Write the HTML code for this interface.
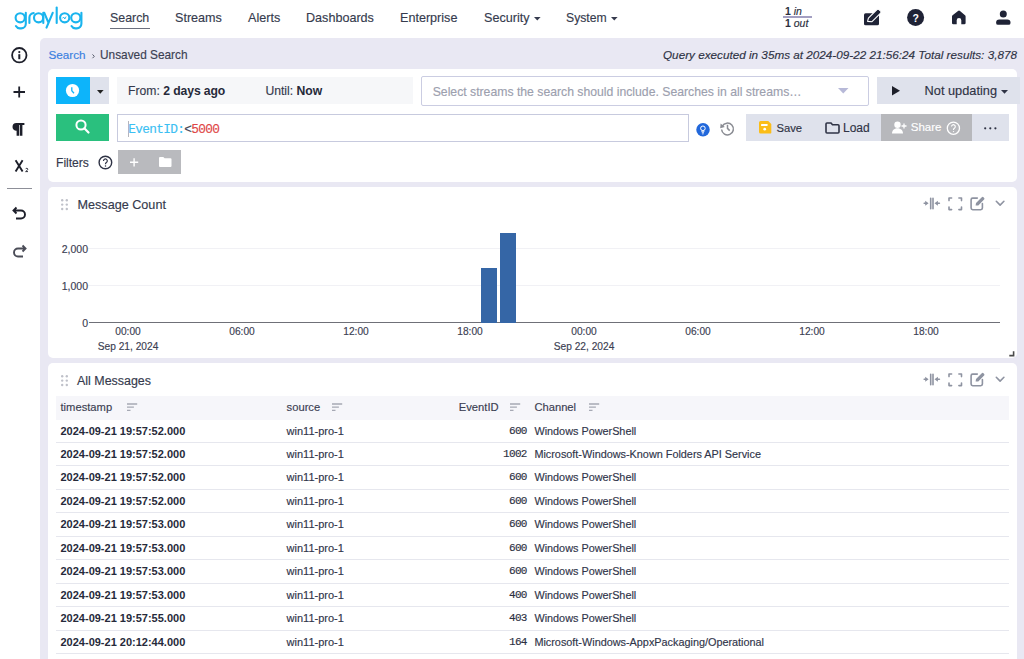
<!DOCTYPE html>
<html><head><meta charset="utf-8">
<style>
*{box-sizing:border-box;margin:0;padding:0}
html,body{width:1024px;height:659px;overflow:hidden;background:#fff;font-family:"Liberation Sans",sans-serif;color:#353a4d}
.a{position:absolute;white-space:nowrap}
#nav{position:absolute;left:0;top:0;width:1024px;height:38px;background:#fff}
#side{position:absolute;left:0;top:38px;width:40px;height:621px;background:#fff}
#main{position:absolute;left:40px;top:38px;width:984px;height:621px;background:#e9e8f3;border-top-left-radius:5px}
.card{position:absolute;background:#fff;border-radius:5px}
.ni{position:absolute;top:10.6px;font-size:12.6px;line-height:15px;color:#363b4e}
.mono{font-family:"Liberation Mono",monospace}
svg{position:absolute;overflow:visible}
.row span,.th,.ni,.ylab,.xlab,.a{-webkit-text-stroke:0.15px currentColor}
.row span.c1,b{-webkit-text-stroke:0}
.th{position:absolute;top:396px;font-size:11.2px;line-height:23px;color:#3b4052}
.row{position:absolute;left:56px;width:953px;height:23.48px;border-bottom:1px solid #e6e7ee;font-size:11px}
.row span{position:absolute;top:5px;line-height:13px;white-space:nowrap}
.c1{left:4.5px;font-weight:bold;color:#262a3a}
.c2{left:230.6px;color:#30354a}
.c3{right:482.3px;font-family:"Liberation Mono",monospace;font-size:11px;letter-spacing:-0.7px;color:#2c3042}
.c4{left:478.4px;color:#30354a;font-size:10.85px}
.ylab{position:absolute;font-size:10.5px;line-height:12px;color:#3b4052;text-align:right;width:40px;left:48px}
.xlab{position:absolute;font-size:10.2px;line-height:12px;color:#3b4052;width:80px;text-align:center}
</style></head><body>
<div id="nav">
  <svg style="left:0;top:0" width="90" height="36" viewBox="0 0 90 36"><g fill="none" stroke="#1ab4ee" stroke-width="2.1" stroke-linecap="round"><circle cx="20.2" cy="17.8" r="4.6"/><path d="M25.8 12.8V23.8a4.6 4.6 0 0 1-4.6 4.6h-1.3a4.5 4.5 0 0 1-4-2.3"/><path d="M29.4 23V17.6a4.5 4.5 0 0 1 4.3-4.5"/><circle cx="38.6" cy="17.8" r="4.6"/><path d="M43.3 12.8V23"/><path d="M44.3 12.8L48.4 22.6M52.7 12.8L46.5 27.6"/><path d="M56.7 7.6V23"/><circle cx="64.7" cy="17.8" r="4.6"/><circle cx="75.8" cy="17.8" r="4.6"/><path d="M81.4 12.8V23.8a4.6 4.6 0 0 1-4.6 4.6h-1.3a4.5 4.5 0 0 1-4-2.3"/></g><path d="M62.6 18.3l1-1.3 1.2 2 1.3-2.4" fill="none" stroke="#1ab4ee" stroke-width="0.9"/></svg>
  <div class="ni" style="left:110px;font-size:12.4px">Search</div>
  <div style="position:absolute;left:110px;top:28px;width:40px;height:1px;background:#6b6f7e"></div>
  <div class="ni" style="left:175px">Streams</div>
  <div class="ni" style="left:248px">Alerts</div>
  <div class="ni" style="left:306px">Dashboards</div>
  <div class="ni" style="left:400px">Enterprise</div>
  <div class="ni" style="left:484px">Security</div>
  <svg style="left:534.3px;top:17px" width="8" height="5"><path d="M0 0h6.6l-3.3 3.6z" fill="#363b4e"/></svg>
  <div class="ni" style="left:566px;font-size:12.2px">System</div>
  <svg style="left:610.8px;top:17px" width="8" height="5"><path d="M0 0h6.6l-3.3 3.6z" fill="#363b4e"/></svg>
  <!-- in/out -->
  <div class="a" style="left:785px;top:5px;font-size:10.5px;line-height:12px;color:#2b2f40"><b>1</b> <i>in</i></div>
  <div style="position:absolute;left:783px;top:16.2px;width:29px;height:1.4px;background:#a39fc2"></div>
  <div class="a" style="left:785px;top:17.4px;font-size:10.5px;line-height:12px;color:#2b2f40"><b>1</b> <i>out</i></div>
  <!-- right icons -->
  <svg style="left:863px;top:8px" width="19" height="19" viewBox="0 0 19 19"><rect x="1" y="5.3" width="15" height="12" rx="1.6" fill="#1f2336"/><path d="M4.6 13.4l.8-3.3 8.6-8.6a1.4 1.4 0 0 1 2 0l1.6 1.6a1.4 1.4 0 0 1 0 2l-8.6 8.6z" fill="#1f2336" stroke="#fff" stroke-width="1.1" stroke-linejoin="round"/></svg>
  <svg style="left:907px;top:9px" width="18" height="18" viewBox="0 0 18 18"><circle cx="8.6" cy="8.6" r="8.5" fill="#1f2336"/><text x="8.6" y="12.6" font-family="Liberation Sans" font-weight="bold" font-size="10.5" fill="#fff" text-anchor="middle">?</text></svg>
  <svg style="left:952px;top:9.5px" width="15" height="15" viewBox="0 0 15 15"><path d="M6 0.9a1.6 1.6 0 0 1 2 0l5 4.3a1.6 1.6 0 0 1 .6 1.2V13a1.3 1.3 0 0 1-1.3 1.3H9.3V10.2a2.3 2.3 0 0 0-4.6 0v4.1H1.3A1.3 1.3 0 0 1 0 13V6.4a1.6 1.6 0 0 1 .6-1.2z" fill="#1f2336"/></svg>
  <svg style="left:995.5px;top:10px" width="15" height="15" viewBox="0 0 15 15"><circle cx="7.3" cy="3.9" r="3.5" fill="#1f2336"/><path d="M3.3 9.4h8a3.2 3.2 0 0 1 3.2 3.2v0.3a1.9 1.9 0 0 1-1.9 1.9H2A1.9 1.9 0 0 1 .1 12.9v-.3a3.2 3.2 0 0 1 3.2-3.2z" fill="#1f2336"/></svg>
</div>
<div id="side">
  <svg style="left:11px;top:8.5px" width="17" height="17" viewBox="0 0 17 17"><circle cx="8.3" cy="8.2" r="7.2" fill="none" stroke="#1d1f2a" stroke-width="1.8"/><rect x="7.3" y="7.2" width="2" height="5" fill="#1d1f2a"/><circle cx="8.3" cy="5.1" r="1.1" fill="#1d1f2a"/></svg>
  <svg style="left:13px;top:48px" width="13" height="13" viewBox="0 0 13 13"><path d="M6.2 0.5v11M0.5 6h11.5" stroke="#1d1f2a" stroke-width="1.8"/></svg>
  <svg style="left:12px;top:85px" width="13" height="13" viewBox="0 0 13 13"><path d="M0.5 3.9A3.9 3.9 0 0 1 4.4 0H12.4V2H10.4V12.7H7.8V2H7.1V12.7H4.6V7.8A3.9 3.9 0 0 1 0.5 3.9Z" fill="#1d1f2a"/></svg>
  <svg style="left:14px;top:122px" width="16" height="14" viewBox="0 0 16 14"><path d="M1.6 0.2L8.6 11.4M8.6 0.2L1.6 11.4" stroke="#1d1f2a" stroke-width="1.9"/><path d="M11.6 9.1q0.3-.8 1.2-.8t1.1.8q0 .6-.7 1.1l-1.6 1.4h2.4" fill="none" stroke="#1d1f2a" stroke-width="0.9"/></svg>
  <div style="position:absolute;left:6.5px;top:150px;width:25.5px;height:1px;background:#8d8f98"></div>
  <svg style="left:12px;top:168px" width="16" height="14" viewBox="0 0 16 14"><path d="M4.5 1.5L1.5 4.5 4.5 7.5M1.8 4.5H9a4 4 0 0 1 0 8H4" fill="none" stroke="#1d1f2a" stroke-width="1.9"/></svg>
  <svg style="left:12px;top:206px" width="16" height="14" viewBox="0 0 16 14"><path d="M10.5 1.5L13.5 4.5 10.5 7.5M13.2 4.5H6a4 4 0 0 0 0 8H11" fill="none" stroke="#4a4c57" stroke-width="1.9"/></svg>
</div>
<div id="main"></div>
<!-- breadcrumb -->
<div class="a" style="left:48.5px;top:48px;font-size:11.7px;line-height:14px;color:#3a7fe0">Search</div>
<svg style="left:91.8px;top:53.5px" width="4" height="5"><path d="M0.5 0.4l1.8 1.9-1.8 1.9" fill="none" stroke="#555a6a" stroke-width="1"/></svg>
<div class="a" style="left:100px;top:48px;font-size:11.85px;line-height:14px;color:#3b3f52">Unsaved Search</div>
<div class="a" style="left:663px;top:48px;font-size:11.72px;line-height:14px;color:#2f3345;font-style:italic">Query executed in 35ms at 2024-09-22 21:56:24 Total results: 3,878</div>

<!-- search card -->
<div class="card" style="left:48px;top:69px;width:968.6px;height:112.5px"></div>
<div style="position:absolute;left:56px;top:76.5px;width:34px;height:27.3px;background:#0db4fa"></div>
<svg style="left:66px;top:84px" width="14" height="14" viewBox="0 0 14 14"><circle cx="6.5" cy="6.5" r="6.6" fill="#fff"/><path d="M5.8 3.2v3.6l2.2 2.4" fill="none" stroke="#0db4fa" stroke-width="1.3"/></svg>
<div style="position:absolute;left:90px;top:76.5px;width:18.8px;height:27.3px;background:#dfe2ec"></div>
<svg style="left:96.5px;top:89.5px" width="7" height="4"><path d="M0 0h6.6l-3.3 3.8z" fill="#222"/></svg>
<div style="position:absolute;left:117.2px;top:76.5px;width:295.6px;height:27.3px;background:#f6f7f9"></div>
<div class="a" style="left:128px;top:83.5px;font-size:12.2px;line-height:14px;color:#353a4d">From: <b style="color:#262a3a;letter-spacing:-0.1px">2 days ago</b></div>
<div class="a" style="left:265.4px;top:83.5px;font-size:12.2px;line-height:14px;color:#353a4d">Until: <b style="color:#262a3a">Now</b></div>
<div style="position:absolute;left:421px;top:76.4px;width:447.5px;height:29.2px;border:1px solid #cbcde2;border-radius:2px;background:#fff"></div>
<div class="a" style="left:432.7px;top:84.8px;font-size:12.23px;line-height:14px;color:#9ca0ae">Select streams the search should include. Searches in all streams…</div>
<svg style="left:838px;top:88px" width="12" height="7"><path d="M0 0h10.5l-5.25 5.5z" fill="#b7b9d8"/></svg>
<div style="position:absolute;left:877px;top:77px;width:142.5px;height:26.5px;background:#dfe2ec"></div>
<svg style="left:892px;top:86px" width="9" height="10"><path d="M0 0v9.5l8-4.75z" fill="#1d1f2a"/></svg>
<div class="a" style="left:924.6px;top:83px;font-size:12.77px;line-height:15px;color:#2f3345">Not updating</div>
<svg style="left:1001px;top:89.5px" width="8" height="5"><path d="M0 0h7l-3.5 3.8z" fill="#2f3345"/></svg>

<div style="position:absolute;left:56px;top:114px;width:52.8px;height:27px;background:#2ac07e"></div>
<svg style="left:75px;top:119px" width="16" height="16" viewBox="0 0 16 16"><circle cx="6" cy="6" r="4.6" fill="none" stroke="#fff" stroke-width="2"/><path d="M9.3 9.3l4.2 4.2" stroke="#fff" stroke-width="2.2" stroke-linecap="round"/></svg>
<div style="position:absolute;left:117.3px;top:114px;width:571.3px;height:27.6px;border:1px solid #c7cade;background:#fff"></div>
<div style="position:absolute;left:127.8px;top:120.5px;width:1px;height:16px;background:#b4b5bc"></div>
<div class="a mono" style="left:128.3px;top:123.3px;font-size:12.8px;line-height:14px;letter-spacing:-0.68px;color:#3cbff3">EventID:<span style="color:#404455">&lt;</span><span style="color:#e04646">5000</span></div>
<svg style="left:695.5px;top:122.5px" width="14" height="14" viewBox="0 0 14 14"><circle cx="7" cy="6.75" r="6.75" fill="#2268db"/><circle cx="6.9" cy="5.3" r="2.3" fill="none" stroke="#fff" stroke-width="1"/><path d="M5.9 7.6v1.3h2v-1.3M5.8 9.9h2.2" fill="none" stroke="#fff" stroke-width="0.9"/><circle cx="6.9" cy="11" r="0.5" fill="#fff"/></svg>
<svg style="left:720px;top:121px" width="16" height="15" viewBox="0 0 16 15"><path d="M2.3 5.2A5.9 5.9 0 1 1 1.6 8.5" fill="none" stroke="#8a8c93" stroke-width="1.5"/><path d="M0.6 2.6l4.2 3.4-4.6 1.3z" fill="#8a8c93"/><path d="M7.5 3.8v3.6l2.2 2.2" fill="none" stroke="#8a8c93" stroke-width="1.5"/></svg>
<div style="position:absolute;left:746.2px;top:114.2px;width:134.8px;height:26.7px;background:#dfe2ec"></div>
<svg style="left:758.9px;top:121.3px" width="13" height="13" viewBox="0 0 13 13"><path d="M0 1.6A1.6 1.6 0 0 1 1.6 0H9.2l3.1 3.1v8.8A1.6 1.6 0 0 1 10.7 12.5H1.6A1.6 1.6 0 0 1 0 10.9z" fill="#fbbd18"/><rect x="2" y="3.1" width="6.6" height="1.9" rx="0.4" fill="#fff"/><circle cx="5.7" cy="8.2" r="1.35" fill="#fff"/></svg>
<div class="a" style="left:776.4px;top:120.5px;font-size:11.25px;line-height:14px;color:#2f3345">Save</div>
<svg style="left:825px;top:121.5px" width="15" height="12" viewBox="0 0 15 12"><path d="M1 2a1 1 0 0 1 1-1h4l1.5 1.8H13a1 1 0 0 1 1 1V10a1 1 0 0 1-1 1H2a1 1 0 0 1-1-1z" fill="none" stroke="#2f3345" stroke-width="1.6"/></svg>
<div class="a" style="left:843px;top:120.5px;font-size:12px;line-height:14px;color:#2f3345">Load</div>
<div style="position:absolute;left:881px;top:114.2px;width:91px;height:26.7px;background:#b7b8bc"></div>
<svg style="left:892px;top:121px" width="15" height="13" viewBox="0 0 15 13"><circle cx="5.5" cy="3.7" r="3.2" fill="#fff"/><path d="M0 12.5c0-3 2-5.3 5.5-5.3S11 9.5 11 12.5z" fill="#fff"/><path d="M12 2.5v5M9.5 5h5" stroke="#fff" stroke-width="1.3"/></svg>
<div class="a" style="left:910.8px;top:119.8px;font-size:11.5px;line-height:14px;color:#fff">Share</div>
<svg style="left:946px;top:120.5px" width="15" height="15" viewBox="0 0 15 15"><circle cx="7.4" cy="7.2" r="6.1" fill="none" stroke="#fff" stroke-width="1.3"/><path d="M5.5 5.6a1.9 1.9 0 1 1 2.9 1.6c-.6.4-.9.7-.9 1.4v.4" fill="none" stroke="#fff" stroke-width="1.1"/><circle cx="7.5" cy="10.6" r="0.7" fill="#fff"/></svg>
<div style="position:absolute;left:972px;top:114.2px;width:36.8px;height:26.7px;background:#dfe2ec"></div>
<svg style="left:983.5px;top:126.5px" width="14" height="4"><circle cx="1.2" cy="1.3" r="1.1" fill="#2f3345"/><circle cx="6.3" cy="1.3" r="1.1" fill="#2f3345"/><circle cx="11.4" cy="1.3" r="1.1" fill="#2f3345"/></svg>

<div class="a" style="left:56px;top:155.5px;font-size:12.1px;line-height:14px;color:#353a4d">Filters</div>
<svg style="left:98px;top:155px" width="15" height="15" viewBox="0 0 15 15"><circle cx="7.4" cy="7.5" r="6.3" fill="none" stroke="#2f3345" stroke-width="1.4"/><path d="M5.5 5.9a1.9 1.9 0 1 1 2.9 1.6c-.6.4-.9.7-.9 1.4v.4" fill="none" stroke="#2f3345" stroke-width="1.2"/><circle cx="7.5" cy="10.9" r="0.75" fill="#2f3345"/></svg>
<div style="position:absolute;left:118.2px;top:150.2px;width:62.8px;height:23.9px;background:#b9babe"></div>
<svg style="left:130px;top:158.2px" width="9" height="9"><path d="M4.1 0.2v8.2M0 4.3h8.2" stroke="#fff" stroke-width="1.4"/></svg>
<svg style="left:159.4px;top:157.3px" width="12.5" height="10" viewBox="0 0 12.5 10"><path d="M0 1A1 1 0 0 1 1 0h3.3l1.3 1.3h5.9a1 1 0 0 1 1 1v6.6a1 1 0 0 1-1 1H1a1 1 0 0 1-1-1z" fill="#fff"/></svg>

<!-- message count card -->
<div class="card" style="left:48px;top:187px;width:968.6px;height:171px"></div>
<svg style="left:60.5px;top:199px" width="8" height="12"><g fill="#bfc1c9"><circle cx="1.2" cy="1.2" r="1.2"/><circle cx="5.8" cy="1.2" r="1.2"/><circle cx="1.2" cy="5.6" r="1.2"/><circle cx="5.8" cy="5.6" r="1.2"/><circle cx="1.2" cy="10" r="1.2"/><circle cx="5.8" cy="10" r="1.2"/></g></svg>
<div class="a" style="left:77.5px;top:198px;font-size:12.64px;line-height:15px;color:#353a4d">Message Count</div>
<svg style="left:918.5px;top:192.3px" width="90" height="22" viewBox="0 0 90 22"><g fill="none" stroke="#8e93a1" stroke-width="1.6" stroke-linecap="round" stroke-linejoin="round"><path d="M5.2 11.3h2M11.7 6.2v10.6M14 6.2v10.6M20.4 11.3h-2"/><path d="M30 8.6V6h2.6M39.9 6h2.6v2.6M42.5 15v2.6h-2.6M32.6 17.6H30V15"/><path d="M58.3 6.1h-4.6a1.6 1.6 0 0 0-1.6 1.6v8.4a1.6 1.6 0 0 0 1.6 1.6h8.1a1.6 1.6 0 0 0 1.6-1.6V11.5"/><path d="M77.3 9.3l3.8 3.8 3.8-3.8"/></g><g fill="#8e93a1"><path d="M9.6 11.3L6.2 8.8v5zM15.5 11.3l3.4-2.5v5z"/><path d="M56.6 13.4l.4-2.3 5.8-5.8a1.2 1.2 0 0 1 1.7 0l.6.6a1.2 1.2 0 0 1 0 1.7l-5.8 5.8z"/></g></svg>
<!-- chart -->
<div style="position:absolute;left:88px;top:248.3px;width:912px;height:1px;background:#f1f1f5"></div>
<div style="position:absolute;left:88px;top:285px;width:912px;height:1px;background:#f1f1f5"></div>
<div style="position:absolute;left:89px;top:322.2px;width:911px;height:1.1px;background:#6f7078"></div>
<div class="ylab" style="top:243px">2,000</div>
<div class="ylab" style="top:279.5px">1,000</div>
<div class="ylab" style="top:316.5px">0</div>
<div style="position:absolute;left:481px;top:268px;width:15.8px;height:54.5px;background:#3566a6"></div>
<div style="position:absolute;left:500.2px;top:233px;width:15.4px;height:89.5px;background:#3566a6"></div>
<div class="xlab" style="left:88px;top:326px">00:00</div>
<div class="xlab" style="left:202px;top:326px">06:00</div>
<div class="xlab" style="left:316px;top:326px">12:00</div>
<div class="xlab" style="left:430px;top:326px">18:00</div>
<div class="xlab" style="left:544px;top:326px">00:00</div>
<div class="xlab" style="left:658px;top:326px">06:00</div>
<div class="xlab" style="left:772px;top:326px">12:00</div>
<div class="xlab" style="left:886px;top:326px">18:00</div>
<div class="xlab" style="left:88px;top:341px">Sep 21, 2024</div>
<div class="xlab" style="left:544px;top:341px">Sep 22, 2024</div>
<svg style="left:1008.5px;top:350.5px" width="6" height="6"><path d="M4.6 0.3v4.3H0.3" fill="none" stroke="#4a4a4a" stroke-width="1.6"/></svg>

<!-- all messages card -->
<div class="card" style="left:48px;top:363px;width:968.6px;height:310px"></div>
<svg style="left:60.5px;top:375px" width="8" height="12"><g fill="#bfc1c9"><circle cx="1.2" cy="1.2" r="1.2"/><circle cx="5.8" cy="1.2" r="1.2"/><circle cx="1.2" cy="5.6" r="1.2"/><circle cx="5.8" cy="5.6" r="1.2"/><circle cx="1.2" cy="10" r="1.2"/><circle cx="5.8" cy="10" r="1.2"/></g></svg>
<div class="a" style="left:77px;top:374px;font-size:12.44px;line-height:15px;color:#353a4d">All Messages</div>
<svg style="left:918.5px;top:368.3px" width="90" height="22" viewBox="0 0 90 22"><g fill="none" stroke="#8e93a1" stroke-width="1.6" stroke-linecap="round" stroke-linejoin="round"><path d="M5.2 11.3h2M11.7 6.2v10.6M14 6.2v10.6M20.4 11.3h-2"/><path d="M30 8.6V6h2.6M39.9 6h2.6v2.6M42.5 15v2.6h-2.6M32.6 17.6H30V15"/><path d="M58.3 6.1h-4.6a1.6 1.6 0 0 0-1.6 1.6v8.4a1.6 1.6 0 0 0 1.6 1.6h8.1a1.6 1.6 0 0 0 1.6-1.6V11.5"/><path d="M77.3 9.3l3.8 3.8 3.8-3.8"/></g><g fill="#8e93a1"><path d="M9.6 11.3L6.2 8.8v5zM15.5 11.3l3.4-2.5v5z"/><path d="M56.6 13.4l.4-2.3 5.8-5.8a1.2 1.2 0 0 1 1.7 0l.6.6a1.2 1.2 0 0 1 0 1.7l-5.8 5.8z"/></g></svg>
<div style="position:absolute;left:56px;top:396px;width:953px;height:23.5px;background:#f6f6fa"></div>
<div class="th" style="left:60.5px">timestamp</div>
<div class="th" style="left:286.6px">source</div>
<div class="th" style="left:458.8px">EventID</div>
<div class="th" style="left:534.4px">Channel</div>
<svg style="left:127px;top:403px" width="12" height="9"><path d="M0 1h10.2M0 4.2h6.9M0 7.4h3.5" stroke="#a6a9b4" stroke-width="1.3"/></svg>
<svg style="left:332px;top:403px" width="12" height="9"><path d="M0 1h10.2M0 4.2h6.9M0 7.4h3.5" stroke="#a6a9b4" stroke-width="1.3"/></svg>
<svg style="left:509.6px;top:403px" width="12" height="9"><path d="M0 1h10.2M0 4.2h6.9M0 7.4h3.5" stroke="#a6a9b4" stroke-width="1.3"/></svg>
<svg style="left:588.7px;top:403px" width="12" height="9"><path d="M0 1h10.2M0 4.2h6.9M0 7.4h3.5" stroke="#a6a9b4" stroke-width="1.3"/></svg>
<div class="row" style="top:419.50px"><span class="c1">2024-09-21 19:57:52.000</span><span class="c2">win11-pro-1</span><span class="c3">600</span><span class="c4">Windows PowerShell</span></div>
<div class="row" style="top:442.98px"><span class="c1">2024-09-21 19:57:52.000</span><span class="c2">win11-pro-1</span><span class="c3">1002</span><span class="c4">Microsoft-Windows-Known Folders API Service</span></div>
<div class="row" style="top:466.46px"><span class="c1">2024-09-21 19:57:52.000</span><span class="c2">win11-pro-1</span><span class="c3">600</span><span class="c4">Windows PowerShell</span></div>
<div class="row" style="top:489.94px"><span class="c1">2024-09-21 19:57:52.000</span><span class="c2">win11-pro-1</span><span class="c3">600</span><span class="c4">Windows PowerShell</span></div>
<div class="row" style="top:513.42px"><span class="c1">2024-09-21 19:57:53.000</span><span class="c2">win11-pro-1</span><span class="c3">600</span><span class="c4">Windows PowerShell</span></div>
<div class="row" style="top:536.90px"><span class="c1">2024-09-21 19:57:53.000</span><span class="c2">win11-pro-1</span><span class="c3">600</span><span class="c4">Windows PowerShell</span></div>
<div class="row" style="top:560.38px"><span class="c1">2024-09-21 19:57:53.000</span><span class="c2">win11-pro-1</span><span class="c3">600</span><span class="c4">Windows PowerShell</span></div>
<div class="row" style="top:583.86px"><span class="c1">2024-09-21 19:57:53.000</span><span class="c2">win11-pro-1</span><span class="c3">400</span><span class="c4">Windows PowerShell</span></div>
<div class="row" style="top:607.34px"><span class="c1">2024-09-21 19:57:55.000</span><span class="c2">win11-pro-1</span><span class="c3">403</span><span class="c4">Windows PowerShell</span></div>
<div class="row" style="top:630.82px"><span class="c1">2024-09-21 20:12:44.000</span><span class="c2">win11-pro-1</span><span class="c3">164</span><span class="c4">Microsoft-Windows-AppxPackaging/Operational</span></div>
</body></html>
